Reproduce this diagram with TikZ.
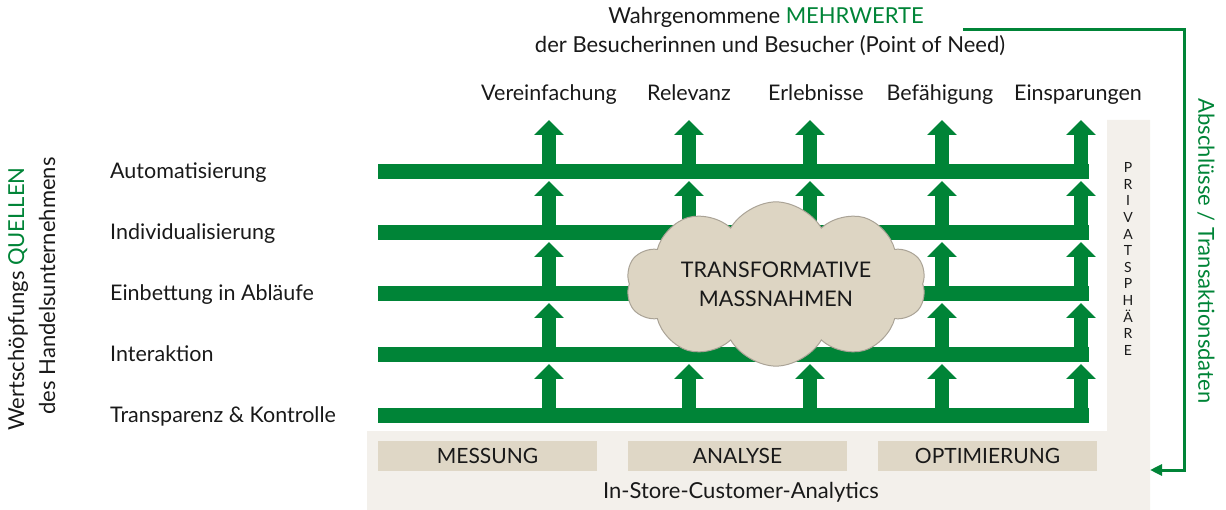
\documentclass[tikz,border=0pt]{standalone}
\usepackage{fontspec}
\setmainfont{Lato}
\usetikzlibrary{arrows.meta,shapes.symbols}
\definecolor{grn}{RGB}{0,132,55}
\definecolor{panel}{RGB}{243,240,235}
\definecolor{boxfill}{RGB}{223,215,198}
\definecolor{cloudfill}{RGB}{221,213,195}
\definecolor{cloudline}{RGB}{170,163,150}
\begin{document}
\begin{tikzpicture}[x=1pt,y=-1pt,
  txt/.style={font=\fontsize{21.5}{24}\selectfont, inner sep=0pt, text=black!90},
  bigtxt/.style={font=\fontsize{22}{24}\selectfont, inner sep=0pt, text=black!90},
  bar/.style={line width=15pt, draw=grn},
  uparrow/.style={line width=14pt, draw=grn, -{Triangle[length=15pt,width=29pt]}},
  stepbox/.style={fill=boxfill, draw=none, minimum width=219pt, minimum height=30pt, inner sep=0pt, font=\fontsize{21}{24}\selectfont, text=black!90},
  feedback/.style={line width=3pt, draw=grn, -{Triangle[length=12pt,width=11pt]}}]
\useasboundingbox (0,0) rectangle (1226,510);

% background panel (L-shape)
\fill[panel] (367,431) -- (1107,431) -- (1107,120) -- (1150,120) -- (1150,510) -- (367,510) -- cycle;

% title
\node[bigtxt, anchor=base] (t1) at (766,24) {Wahrgenommene \textcolor{grn}{MEHRWERTE}};
\node[bigtxt, anchor=base] (t2) at (770,53) {der Besucherinnen und Besucher (Point of Need)};

% column labels
\node[txt, anchor=base] (c1) at (549,101) {Vereinfachung};
\node[txt, anchor=base] (c2) at (689,101) {Relevanz};
\node[txt, anchor=base] (c3) at (816,101) {Erlebnisse};
\node[txt, anchor=base] (c4) at (940,101) {Befähigung};
\node[txt, anchor=base] (c5) at (1078,101) {Einsparungen};

% row labels
\node[txt, anchor=base west] (r1) at (110,179) {Automatisierung};
\node[txt, anchor=base west] (r2) at (110,240) {Individualisierung};
\node[txt, anchor=base west] (r3) at (110,301) {Einbettung in Abläufe};
\node[txt, anchor=base west] (r4) at (110,362) {Interaktion};
\node[txt, anchor=base west] (r5) at (110,422) {Transparenz \& Kontrolle};

% bars
\foreach \y/\n in {172/1,233/2,294/3,355/4,415/5}{
  \coordinate (bl\n) at (378,\y);
  \coordinate (br\n) at (1089,\y);
  \draw[bar] (bl\n) -- (br\n);
}
% arrows
\foreach \x in {549,689,810,942,1081}{
  \draw[uparrow] (\x,172) -- (\x,120);
  \draw[uparrow] (\x,233) -- (\x,181);
  \draw[uparrow] (\x,294) -- (\x,242);
  \draw[uparrow] (\x,355) -- (\x,303);
  \draw[uparrow] (\x,415) -- (\x,364);
}

% cloud
\node[cloud, cloud puffs=10, cloud puff arc=120, aspect=2.2,
      draw=cloudline, line width=1pt, fill=cloudfill,
      minimum width=300pt, minimum height=136pt, inner sep=0pt,
      align=center, font=\fontsize{21.5}{29}\selectfont, text=black!90] (cl) at (776,284)
      {TRANSFORMATIVE\\MASSNAHMEN};

% privacy strip text
\node[inner sep=0pt, align=center, font=\fontsize{14}{16.6}\selectfont, text=black!90] (priv) at (1128,259)
  {P\\R\\I\\V\\A\\T\\S\\P\\H\\Ä\\R\\E};

% analytics boxes
\node[stepbox] (m1) at (487.5,456) {MESSUNG};
\node[stepbox] (m2) at (737.5,456) {ANALYSE};
\node[stepbox] (m3) at (987.5,456) {OPTIMIERUNG};
\node[bigtxt, anchor=base] (ica) at (741,498) {In-Store-Customer-Analytics};

% feedback loop
\coordinate (fbstart) at (963,30);
\coordinate (fbcorner1) at (1184,30);
\coordinate (fbcorner2) at (1184,470);
\coordinate (fbend) at (1150,470);
\draw[feedback] (fbstart) -- (fbcorner1) -- (fbcorner2) -- (fbend);

\node[bigtxt, text=grn, rotate=-90] (abs) at (1206,251) {Abschlüsse / Transaktionsdaten};

% left rotated labels
\node[bigtxt, rotate=90] (q1) at (18,299) {Wertschöpfungs \textcolor{grn}{QUELLEN}};
\node[bigtxt, rotate=90] (q2) at (47,286) {des Handelsunternehmens};
\end{tikzpicture}
\end{document}
